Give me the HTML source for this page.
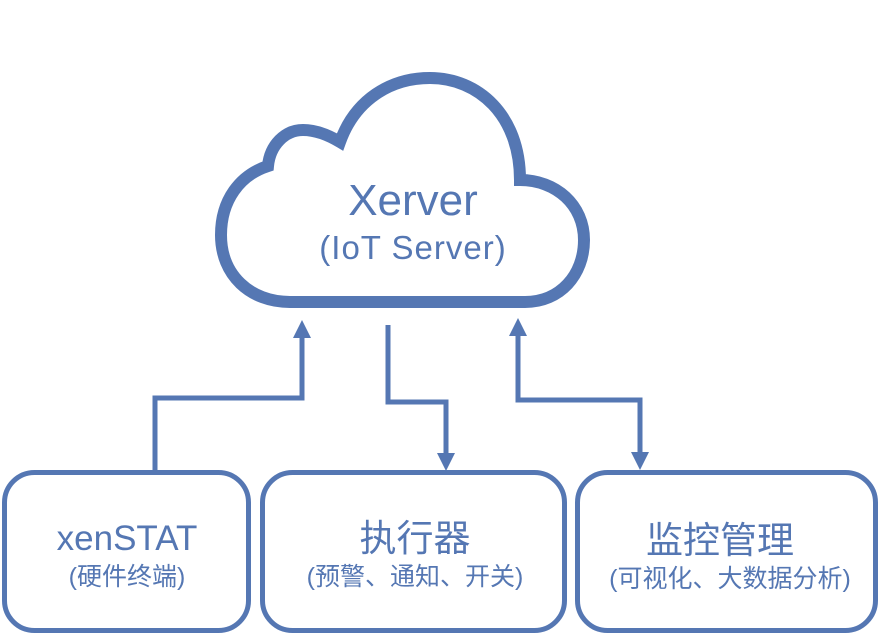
<!DOCTYPE html>
<html><head><meta charset="utf-8"><style>
html,body{margin:0;padding:0;background:#fff;}
svg{display:block;}
text{fill:#5577b3;font-family:"Liberation Sans","Noto Sans CJK SC",sans-serif;text-anchor:middle;}
</style></head><body>
<svg width="889" height="637" viewBox="0 0 889 637" xmlns="http://www.w3.org/2000/svg">
<g fill="none" stroke="#5577b3">
<path stroke-width="12" stroke-linejoin="miter" d="M290 302 H525 C560 302 584 275 584 240 C584 205 556 180 520 180 C520 115 478 78 430 78 C390 78 355 100 340 142 C325 133 312 130 303 130 C285 130 270 145 268 166 C240 175 221 200 221 235 C221 275 250 302 290 302 Z"/>
<g stroke-width="5">
<polyline points="155,470 155,398 302,398 302,334"/>
<polyline points="388,325 388,402 446,402 446,456"/>
<polyline points="518,334 518,400 640,400 640,456"/>
<rect x="4.5" y="472.5" width="244" height="158" rx="30"/>
<rect x="262.5" y="472.5" width="302" height="158" rx="30"/>
<rect x="577.5" y="472.5" width="298" height="158" rx="30"/>
</g>
</g>
<g fill="#5577b3">
<polygon points="302,320 293,338 311,338"/>
<polygon points="446,471 437,453 455,453"/>
<polygon points="518,318 509,336 527,336"/>
<polygon points="640,470 631,452 649,452"/>
</g>
<text x="413" y="215" font-size="44">Xerver</text>
<text x="413" y="259" font-size="33" letter-spacing="1">(IoT Server)</text>
<text x="127" y="550" font-size="35">xenSTAT</text>
<text x="127" y="585" font-size="25">(硬件终端)</text>
<text x="415" y="551" font-size="37">执行器</text>
<text x="415" y="585" font-size="25">(预警、通知、开关)</text>
<text x="720" y="553" font-size="37">监控管理</text>
<text x="730" y="587" font-size="25">(可视化、大数据分析)</text>
</svg>
</body></html>
